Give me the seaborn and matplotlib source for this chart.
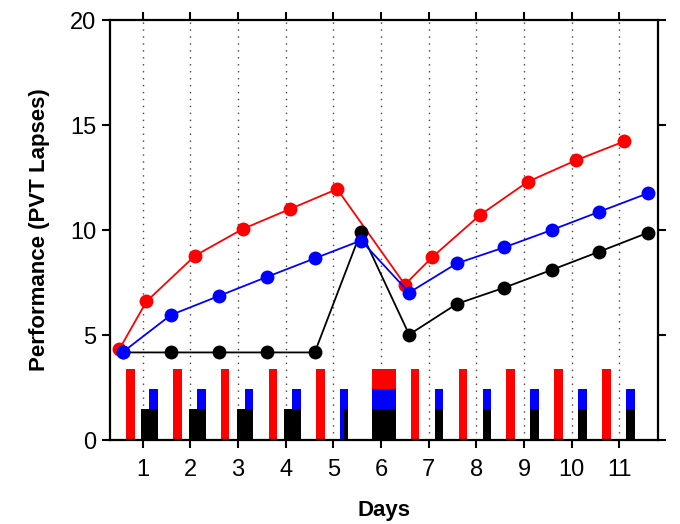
import numpy as np
import pandas as pd
import matplotlib
matplotlib.use("Agg")
import matplotlib.pyplot as plt
import seaborn as sns

# ---- data ----
red_x = [0.51, 1.08, 2.10, 3.10, 4.09, 5.08, 6.50, 7.08, 8.08, 9.08, 10.09, 11.10]
red_y = [4.32, 6.60, 8.78, 10.05, 11.00, 11.95, 7.40, 8.72, 10.72, 12.30, 13.32, 14.22]

blue_x = [0.59, 1.59, 2.60, 3.60, 4.61, 5.58, 6.59, 7.59, 8.58, 9.58, 10.58, 11.60]
blue_y = [4.20, 5.95, 6.86, 7.76, 8.65, 9.50, 7.02, 8.41, 9.17, 10.00, 10.87, 11.75]

black_x = [0.59, 1.59, 2.60, 3.60, 4.61, 5.58, 6.59, 7.59, 8.58, 9.58, 10.58, 11.60]
black_y = [4.17, 4.17, 4.17, 4.17, 4.17, 9.92, 5.02, 6.48, 7.25, 8.10, 8.97, 9.87]

days = [1, 2, 3, 4, 5, 6, 7, 8, 9, 10, 11]

# bars along the bottom (schedule blocks)
red_bar_x = [0.74, 1.73, 2.73, 3.73, 4.73, 6.06, 6.71, 7.72, 8.72, 9.72, 10.73]
red_bar_lo = [0, 0, 0, 0, 0, 2.45, 0, 0, 0, 0, 0]
red_bar_hi = [3.4, 3.4, 3.4, 3.4, 3.4, 3.4, 3.4, 3.4, 3.4, 3.4, 3.4]

blue_bar_x = [1.23, 2.23, 3.23, 4.23, 5.22, 6.06, 7.22, 8.22, 9.22, 10.23, 11.23]
blue_bar_lo = [1.5, 1.5, 1.5, 1.5, 0, 1.5, 1.5, 1.5, 1.5, 1.5, 1.5]
blue_bar_hi = [2.45, 2.45, 2.45, 2.45, 2.45, 2.45, 2.45, 2.45, 2.45, 2.45, 2.45]

black_bar_x = [1.145, 2.145, 3.145, 4.145, 5.27, 6.06, 7.22, 8.22, 9.22, 10.23, 11.23]
black_bar_hi = [1.5, 1.5, 1.5, 1.5, 1.5, 1.5, 1.5, 1.5, 1.5, 1.5, 1.5]

# widths (style)
red_w = [0.18] * 5 + [0.51] + [0.18] * 5
blue_w = [0.18] * 5 + [0.51] + [0.18] * 5
black_w = [0.35] * 4 + [0.085, 0.51] + [0.18] * 5

sns.set_style("ticks")
plt.rcParams['font.family'] = ['Liberation Sans Narrow', 'Liberation Sans', 'DejaVu Sans']
plt.rcParams['text.color'] = 'black'
plt.rcParams['axes.labelcolor'] = 'black'

fig = plt.figure(figsize=(6.8, 5.24), dpi=100)
ax = fig.add_axes([0.1618, 0.1603, 0.8058, 0.8015])

# bars
ax.bar(red_bar_x, np.subtract(red_bar_hi, red_bar_lo), bottom=red_bar_lo,
       width=red_w, color='#ff0000', linewidth=0, zorder=2)
ax.bar(blue_bar_x, np.subtract(blue_bar_hi, blue_bar_lo), bottom=blue_bar_lo,
       width=blue_w, color='#0000ff', linewidth=0, zorder=2)
ax.bar(black_bar_x, black_bar_hi, width=black_w, color='black', linewidth=0, zorder=3)

# lines
df_red = pd.DataFrame({'x': red_x, 'y': red_y})
df_blue = pd.DataFrame({'x': blue_x, 'y': blue_y})
df_black = pd.DataFrame({'x': black_x, 'y': black_y})
sns.lineplot(data=df_red, x='x', y='y', ax=ax, color='#ff0000', lw=1.3,
             marker='o', markersize=10, markeredgewidth=0, sort=False, zorder=4)
sns.lineplot(data=df_black, x='x', y='y', ax=ax, color='black', lw=1.3,
             marker='o', markersize=10, markeredgewidth=0, sort=False, zorder=5)
sns.lineplot(data=df_blue, x='x', y='y', ax=ax, color='#0000ff', lw=1.3,
             marker='o', markersize=10, markeredgewidth=0, sort=False, zorder=6)

# dotted day lines
for d in days:
    ax.axvline(d, color='#444444', lw=1.0, ls=(0, (1, 4)), zorder=1)

ax.set_xlim(0.315, 11.81)
ax.set_ylim(0, 20)
ax.set_xticks(days)
ax.set_xticklabels([str(d) for d in days])
ax.set_yticks([0, 5, 10, 15, 20])
ax.tick_params(axis='both', direction='out', length=6, width=1.5,
               labelsize=17, colors='black', labelcolor='black')
ax.tick_params(axis='x', top=True, labeltop=False, pad=8)
ax.tick_params(axis='y', right=True, labelright=False, pad=4)
for s in ax.spines.values():
    s.set_visible(True)
    s.set_linewidth(1.6)
    s.set_color('black')

ax.set_xlabel('Days', fontsize=16, fontweight='bold', family='Liberation Sans',
              color='black', labelpad=13)
ax.set_ylabel('Performance (PVT Lapses)', fontsize=16, fontweight='bold',
              family='Liberation Sans', color='black', labelpad=14)

fig.savefig('out.png', dpi=100)
